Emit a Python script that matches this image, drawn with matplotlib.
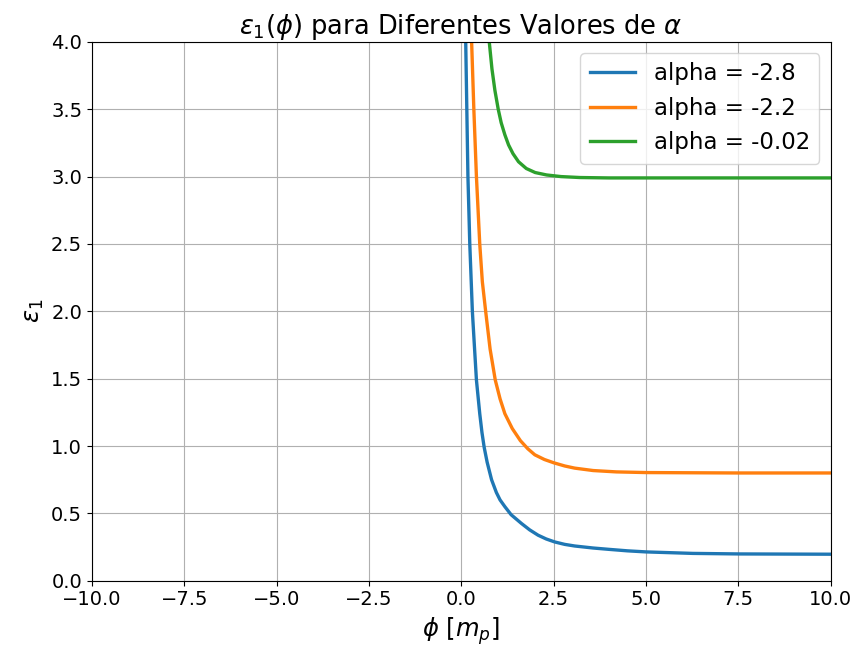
import matplotlib
matplotlib.use("Agg")
import matplotlib.pyplot as plt

# values
phi_a28 = [0.11, 0.12, 0.15, 0.18, 0.23, 0.30, 0.36, 0.41, 0.50, 0.56, 0.62,
           0.70, 0.82, 0.95, 1.05, 1.18, 1.35, 1.63, 1.85, 2.08, 2.30, 2.53,
           2.80, 3.07, 3.57, 4.00, 4.50, 5.01, 6.27, 7.54, 10.0]
eps_a28 = [4.10, 4.00, 3.50, 3.00, 2.50, 2.00, 1.72, 1.49, 1.24, 1.10, 0.99,
           0.88, 0.75, 0.655, 0.60, 0.55, 0.49, 0.425, 0.378, 0.338, 0.310, 0.288,
           0.270, 0.258, 0.243, 0.233, 0.222, 0.214, 0.203, 0.199, 0.197]

phi_a22 = [0.27, 0.28, 0.34, 0.41, 0.50, 0.57, 0.66, 0.78, 0.92, 1.05, 1.18,
           1.38, 1.60, 1.80, 1.99, 2.25, 2.51, 2.80, 3.07, 3.57, 4.20, 5.01,
           7.5, 10.0]
eps_a22 = [4.10, 4.00, 3.50, 3.00, 2.50, 2.22, 2.00, 1.72, 1.49, 1.35, 1.24,
           1.13, 1.04, 0.98, 0.935, 0.90, 0.875, 0.852, 0.836, 0.818, 0.808, 0.803,
           0.80, 0.80]

phi_a002 = [0.73, 0.75, 0.83, 0.91, 1.00, 1.08, 1.18, 1.28, 1.40, 1.55, 1.76,
            2.00, 2.31, 2.70, 3.21, 4.0, 5.0, 7.5, 10.0]
eps_a002 = [4.10, 4.02, 3.80, 3.64, 3.50, 3.40, 3.31, 3.235, 3.17, 3.11, 3.06,
            3.03, 3.012, 3.00, 2.993, 2.99, 2.99, 2.99, 2.99]

labels = ["alpha = -2.8", "alpha = -2.2", "alpha = -0.02"]

fig, ax = plt.subplots(figsize=(8.59, 6.54), dpi=100)
fig.subplots_adjust(left=0.107, right=0.967, top=0.936, bottom=0.112)

ax.plot(phi_a28, eps_a28, lw=2.4, color="#1f77b4", label=labels[0])
ax.plot(phi_a22, eps_a22, lw=2.4, color="#ff7f0e", label=labels[1])
ax.plot(phi_a002, eps_a002, lw=2.4, color="#2ca02c", label=labels[2])

ax.set_xlim(-10, 10)
ax.set_ylim(0, 4)
ax.set_title(r"$\varepsilon_1(\phi)$ para Diferentes Valores de $\alpha$", fontsize=18.5)
ax.set_xlabel(r"$\phi\ [m_p]$", fontsize=17.5)
ax.set_ylabel(r"$\varepsilon_1$", fontsize=17.5)
ax.tick_params(labelsize=14)
ax.grid(True)
ax.legend(fontsize=16.5, loc="upper right")

plt.savefig("out.png")
